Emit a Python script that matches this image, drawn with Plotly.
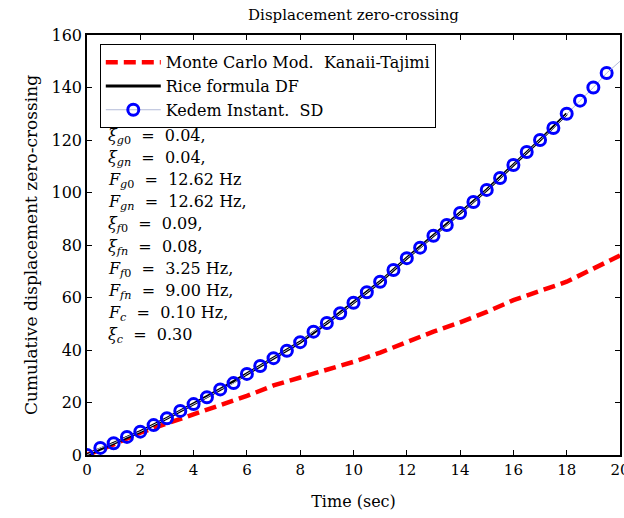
import plotly.graph_objects as go

# ---- data ----
t_mc = [0, 1, 2, 3, 4, 5, 6, 7, 8, 9, 10, 11, 12, 13, 14, 15, 16, 17, 18, 19, 20]
mc_vals = [0, 4, 8.5, 12, 15.5, 19, 22.5, 26.5, 29.5, 32.5, 35.5, 39, 43, 47, 50.5,
           54.5, 59, 62.5, 66, 71, 76]

t_rice = [0, 1, 2, 3, 4, 5, 6, 7, 8, 9, 10, 11, 12, 13, 14, 15, 16, 17, 18]
rice_vals = [0, 4.5, 8.9, 14, 19.4, 25, 30.9, 36.9, 43, 50.3, 58, 66, 75, 83.5, 92.2,
             101, 110.5, 120, 130]

t_kedem = [0, 0.5, 1, 1.5, 2, 2.5, 3, 3.5, 4, 4.5, 5, 5.5, 6, 6.5, 7, 7.5, 8, 8.5, 9,
           9.5, 10, 10.5, 11, 11.5, 12, 12.5, 13, 13.5, 14, 14.5, 15, 15.5, 16, 16.5,
           17, 17.5, 18, 18.5, 19, 19.5, 20]
kedem_vals = [0, 2.7, 4.5, 6.9, 8.9, 11.4, 14, 16.8, 19.4, 22, 25, 27.4, 30.9, 33.9,
              36.9, 39.7, 43, 47, 50.3, 54, 58, 62, 66, 70.5, 75, 79, 83.5, 87.6, 92.2,
              96.4, 101, 105.5, 110.5, 115.4, 120, 124.6, 130, 135, 140, 145.5, 150]

x_ticks = [0, 2, 4, 6, 8, 10, 12, 14, 16, 18, 20]
y_ticks = [0, 20, 40, 60, 80, 100, 120, 140, 160]

series_names = ["Monte Carlo Mod.\u00a0 Kanaii-Tajimi", "Rice formula DF",
                "Kedem Instant.\u00a0 SD"]

EQ = "&nbsp;&nbsp;=&nbsp;&nbsp;"
param_lines = [
    "<i>ξ</i><sub><i>g</i>0</sub>" + EQ + "0.04,",
    "<i>ξ</i><sub><i>gn</i></sub>" + EQ + "0.04,",
    "<i>F</i><sub><i>g</i>0</sub>" + EQ + "12.62 Hz",
    "<i>F</i><sub><i>gn</i></sub>" + EQ + "12.62 Hz,",
    "<i>ξ</i><sub><i>f</i>0</sub>" + EQ + "0.09,",
    "<i>ξ</i><sub><i>fn</i></sub>" + EQ + "0.08,",
    "<i>F</i><sub><i>f</i>0</sub>" + EQ + "3.25 Hz,",
    "<i>F</i><sub><i>fn</i></sub>" + EQ + "9.00 Hz,",
    "<i>F</i><sub><i>c</i></sub>" + EQ + "0.10 Hz,",
    "<i>ξ</i><sub><i>c</i></sub>" + EQ + "0.30",
]

FONT = "DejaVu Serif"

fig = go.Figure()

fig.add_trace(go.Scatter(
    x=t_mc, y=mc_vals, mode="lines", name=series_names[0],
    line=dict(color="#ff0000", width=4.5, dash="12px,6px")))

fig.add_trace(go.Scatter(
    x=t_rice, y=rice_vals, mode="lines", name=series_names[1],
    line=dict(color="#000000", width=3)))

fig.add_trace(go.Scatter(
    x=t_kedem[:-1], y=kedem_vals[:-1], mode="lines+markers", name=series_names[2],
    line=dict(color="#b4bcd8", width=1),
    marker=dict(symbol="circle-open", size=11, color="#0000ff",
                line=dict(width=3, color="#0000ff"))))

fig.add_trace(go.Scatter(
    x=t_kedem[-2:], y=kedem_vals[-2:], mode="lines", showlegend=False,
    line=dict(color="#b4bcd8", width=1)))

# parameter text lines
top_px, step_px = 136, 22.2
for i, txt in enumerate(param_lines):
    ypx = top_px + i * step_px
    fig.add_annotation(
        x=0.036, y=(455 - ypx) / 420, xref="x domain", yref="y domain",
        text=txt, showarrow=False, xanchor="left", yanchor="middle",
        font=dict(family=FONT, size=16, color="black"))

fig.update_layout(
    width=624, height=518, autosize=False,
    margin=dict(l=87, r=4, t=35, b=63, autoexpand=False),
    paper_bgcolor="white", plot_bgcolor="white",
    title=dict(text="Displacement zero-crossing", x=(87 + 620) / 2 / 624, xanchor="center",
               y=1 - 15 / 518, yanchor="middle",
               font=dict(family=FONT, size=15, color="black")),
    showlegend=True,
    legend=dict(x=0.024, y=0.978, xanchor="left", yanchor="top",
                bgcolor="white", bordercolor="black", borderwidth=1,
                font=dict(family=FONT, size=16, color="black"),
                tracegroupgap=0, itemwidth=55),
    font=dict(family=FONT, color="black"),
)

fig.update_xaxes(
    range=[0, 20], tickvals=x_ticks, ticktext=[str(v) for v in x_ticks],
    ticks="inside", ticklen=5, tickwidth=1, tickcolor="black",
    showline=True, linecolor="black", linewidth=1.5, mirror="ticks",
    showgrid=False, zeroline=False, ticklabeloverflow="allow",
    tickfont=dict(family=FONT, size=15, color="black"),
    title=dict(text="Time (sec)", font=dict(family=FONT, size=16, color="black"), standoff=18))

fig.update_yaxes(
    range=[0, 160], tickvals=y_ticks, ticktext=[str(v) for v in y_ticks],
    ticks="inside", ticklen=5, tickwidth=1, tickcolor="black",
    showline=True, linecolor="black", linewidth=1.5, mirror="ticks",
    showgrid=False, zeroline=False, ticklabeloverflow="allow",
    tickfont=dict(family=FONT, size=16, color="black"),
    title=dict(text="Cumulative displacement zero-crossing",
               font=dict(family=FONT, size=17, color="black"), standoff=10))

fig.write_html(
    "out.html",
    config={"displayModeBar": False},
    post_script="document.body.style.margin='0';document.body.style.padding='0';"
                "document.body.style.overflow='hidden';")
